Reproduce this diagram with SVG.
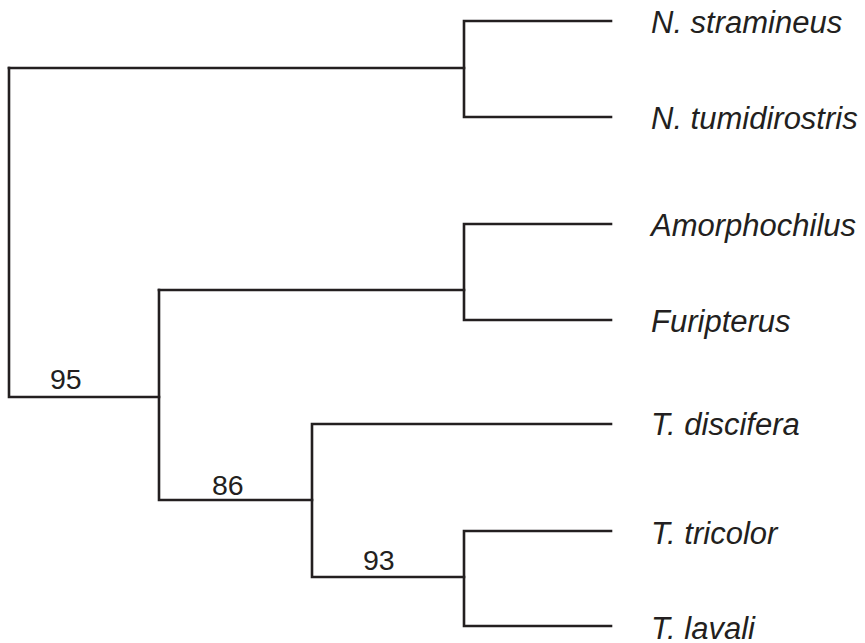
<svg xmlns="http://www.w3.org/2000/svg" width="865" height="643" viewBox="0 0 865 643">
<style>
.b{fill:none;stroke:#231f20;stroke-width:2.6;stroke-linecap:square}
.t{font-family:"Liberation Sans",Arial,sans-serif;font-style:italic;font-size:31px;fill:#231f20}
.n{font-family:"Liberation Sans",Arial,sans-serif;font-size:28.5px;fill:#231f20}
</style>
<rect width="865" height="643" fill="#ffffff"/>
<g id="connectors">
<path class="b" d="M9,68 V397 H159"/>
<path class="b" d="M9,68 H464"/>
<path class="b" d="M611,21 H464 V117 H611"/>
<path class="b" d="M159,290 V500 H312"/>
<path class="b" d="M159,290 H464"/>
<path class="b" d="M611,224 H464 V320 H611"/>
<path class="b" d="M611,424 H312 V577 H464"/>
<path class="b" d="M611,531 H464 V626 H611"/>
</g>
<g id="leaf-n-stramineus"><text class="t" x="651" y="33">N. stramineus</text></g>
<g id="leaf-n-tumidirostris"><text class="t" x="651" y="129">N. tumidirostris</text></g>
<g id="leaf-amorphochilus"><text class="t" x="651" y="236">Amorphochilus</text></g>
<g id="leaf-furipterus"><text class="t" x="651" y="332">Furipterus</text></g>
<g id="leaf-t-discifera"><text class="t" x="651" y="435">T. discifera</text></g>
<g id="leaf-t-tricolor"><text class="t" x="651" y="544">T. tricolor</text></g>
<g id="leaf-t-lavali"><text class="t" x="651" y="639">T. lavali</text></g>
<g id="support-95"><text class="n" x="50" y="389">95</text></g>
<g id="support-86"><text class="n" x="212" y="495">86</text></g>
<g id="support-93"><text class="n" x="363" y="570">93</text></g>
</svg>
